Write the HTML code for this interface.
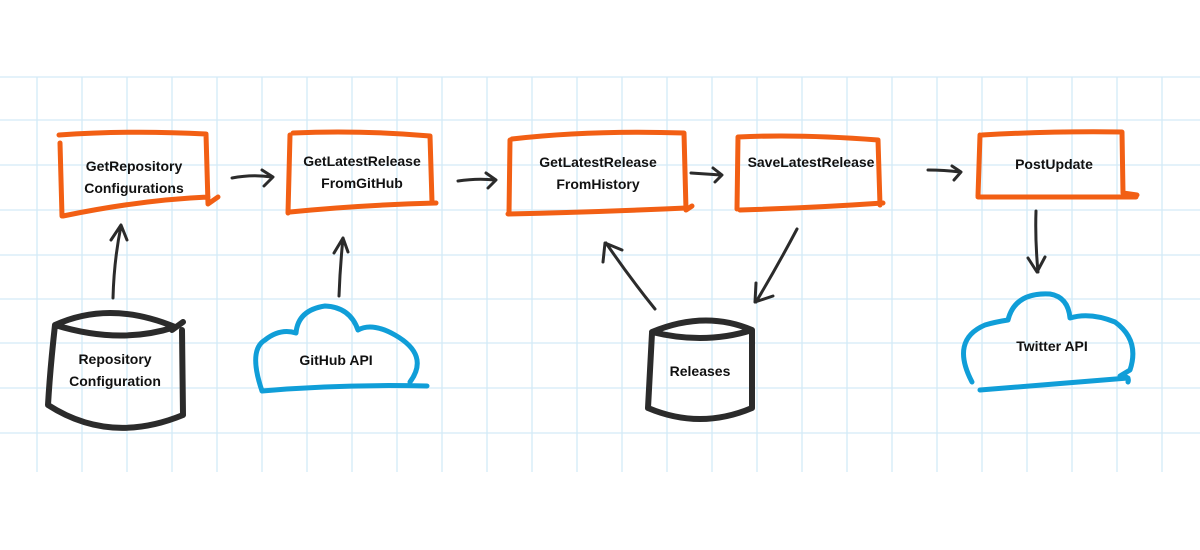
<!DOCTYPE html>
<html><head><meta charset="utf-8"><style>
html,body{margin:0;padding:0;background:#fff;}
svg{display:block}
text{font-family:"Liberation Sans",sans-serif;font-weight:bold;font-size:14px;fill:#111;text-anchor:middle}
</style></head><body>
<svg width="1200" height="550" viewBox="0 0 1200 550" xmlns="http://www.w3.org/2000/svg">
<g stroke="#d3eaf7" stroke-width="1.3">
<line x1="0" y1="77" x2="1200" y2="77"/>
<line x1="0" y1="120" x2="1200" y2="120"/>
<line x1="0" y1="165" x2="1200" y2="165"/>
<line x1="0" y1="210" x2="1200" y2="210"/>
<line x1="0" y1="255" x2="1200" y2="255"/>
<line x1="0" y1="299" x2="1200" y2="299"/>
<line x1="0" y1="343" x2="1200" y2="343"/>
<line x1="0" y1="388" x2="1200" y2="388"/>
<line x1="0" y1="433" x2="1200" y2="433"/>
</g>
<g stroke="#d3eaf7" stroke-width="1.3" id="v"></g>
<script>
var g=document.getElementById('v');for(var x=37;x<1200;x+=45){var l=document.createElementNS('http://www.w3.org/2000/svg','line');l.setAttribute('x1',x);l.setAttribute('x2',x);l.setAttribute('y1',77);l.setAttribute('y2',472);g.appendChild(l);}
</script>
<g fill="none" stroke="#f25f14" stroke-width="5" stroke-linecap="round" stroke-linejoin="round">
<path d="M59 135 Q130 130 206 134 L208 204 L218 197 M208 197 Q140 200 63 216 M60 143 L62 216"/>
<path d="M293 133 Q360 130 430 136 L432 202 M436 203 Q360 205 290 212 M290 135 L288 213"/>
<path d="M512 139 Q590 130 684 133 L686 210 L692 206 M686 208 Q600 212 508 214 M510 140 L509 214"/>
<path d="M738 137 Q800 134 878 140 L880 205 M883 203 Q810 208 740 210 M738 137 L737 209"/>
<path d="M982 135 Q1050 131 1122 132 L1123 193 L1137 195 M1136 197 Q1060 197 978 197 M980 135 L978 196"/>
</g>
<g fill="none" stroke="#2b2b2b" stroke-width="3" stroke-linecap="round" stroke-linejoin="round">
<path d="M232 178 Q252 174 272 177 M262 170 L273 177 L264 186"/>
<path d="M458 181 Q477 178 495 180 M486 173 L496 180 L488 188"/>
<path d="M691 173 Q706 174 721 175 M713 168 L722 175 L715 182"/>
<path d="M928 170 Q944 170 960 172 M952 166 L961 172 L954 180"/>
<path d="M113 298 Q114 260 121 226 M111 240 L121 225 L127 240"/>
<path d="M339 296 Q340 268 343 238 M334 253 L343 238 L348 252"/>
<path d="M655 309 Q630 278 606 243 M603 262 L605 243 L622 250"/>
<path d="M797 229 Q778 265 756 302 M756 283 L755 302 L773 296"/>
<path d="M1036 211 Q1035 240 1038 272 M1028 258 L1037 272 L1045 257"/>
</g>
<g fill="none" stroke="#2b2b2b" stroke-width="6" stroke-linecap="round" stroke-linejoin="round">
<path d="M55 325 Q110 300 175 327 Q120 345 55 325 Z M55 325 Q50 370 48 405 Q110 445 183 415 M172 330 L183 322 M182 330 L183 415"/>
<path d="M652 332 Q705 310 752 330 Q705 345 652 332 Z M652 333 L648 408 Q700 430 752 408 L752 330"/>
</g>
<g fill="none" stroke="#109ed8" stroke-width="5" stroke-linecap="round" stroke-linejoin="round">
<path d="M262 391 Q248 350 265 340 Q280 328 296 333 Q298 310 325 306 Q350 307 358 330 Q372 322 395 335 Q430 355 410 382 M262 391 Q340 384 427 386"/>
<path d="M972 382 Q950 340 985 325 Q995 322 1008 320 Q1015 292 1050 294 Q1068 297 1070 318 Q1090 312 1115 322 Q1140 340 1130 370 L1120 376 Q1130 376 1128 382 M980 390 Q1050 384 1128 378"/>
</g>
<text x="134" y="171">GetRepository</text>
<text x="134" y="193">Configurations</text>
<text x="362" y="166">GetLatestRelease</text>
<text x="362" y="188">FromGitHub</text>
<text x="598" y="167">GetLatestRelease</text>
<text x="598" y="189">FromHistory</text>
<text x="811" y="167">SaveLatestRelease</text>
<text x="1054" y="169">PostUpdate</text>
<text x="115" y="364">Repository</text>
<text x="115" y="386">Configuration</text>
<text x="336" y="365">GitHub API</text>
<text x="700" y="376">Releases</text>
<text x="1052" y="351">Twitter API</text>
</svg>
</body></html>
